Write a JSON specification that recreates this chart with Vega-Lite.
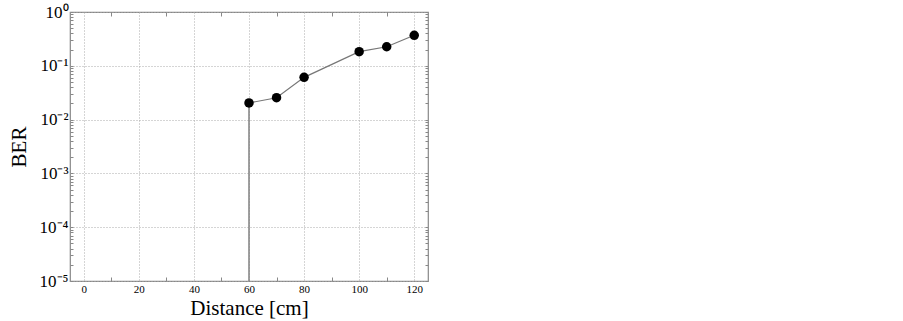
{
  "$schema": "https://vega.github.io/schema/vega-lite/v6.json",
  "width": 358,
  "height": 269,
  "autosize": "none",
  "padding": {"left": 70, "top": 12, "right": 475, "bottom": 40},
  "background": "white",
  "config": {
    "view": {"stroke": "#888888", "strokeWidth": 1.2},
    "font": "Liberation Serif",
    "axis": {"domain": false, "labelFont": "Liberation Serif", "titleFont": "Liberation Serif", "titleFontWeight": "normal", "labelColor": "black", "titleColor": "black", "tickColor": "#888888", "gridColor": "#aaaaaa", "gridDash": [1, 2], "gridWidth": 1}
  },
  "data": {
    "values": [
      {"distance": 60, "ber": 0.0204},
      {"distance": 70, "ber": 0.0255},
      {"distance": 80, "ber": 0.061},
      {"distance": 100, "ber": 0.183},
      {"distance": 110, "ber": 0.226},
      {"distance": 120, "ber": 0.369}
    ]
  },
  "layer": [
    {
      "transform": [{"filter": "datum.distance == 60"}],
      "mark": {"type": "rule", "color": "#808080", "strokeWidth": 1.5},
      "encoding": {
        "x": {"field": "distance", "type": "quantitative", "scale": {"domain": [-5, 125], "nice": false, "zero": false},
          "axis": {"orient": "bottom", "values": [0, 20, 40, 60, 80, 100, 120], "grid": true, "tickSize": 0, "labelFontSize": 11, "labelPadding": 2, "title": "Distance [cm]", "titleFontSize": 21, "titlePadding": 3}},
        "y": {"field": "ber", "type": "quantitative", "scale": {"type": "log", "domain": [0.00001, 1], "nice": false},
          "axis": {"orient": "left", "values": [0.00001, 0.0001, 0.001, 0.01, 0.1, 1], "grid": true, "tickSize": 0, "labelFontSize": 17, "labelPadding": 2,
            "labelExpr": "datum.value > 0.5 ? '10⁰' : datum.value > 0.05 ? '10⁻¹' : datum.value > 0.005 ? '10⁻²' : datum.value > 0.0005 ? '10⁻³' : datum.value > 0.00005 ? '10⁻⁴' : '10⁻⁵'",
            "title": "BER", "titleFontSize": 21, "titlePadding": 10}},
        "y2": {"datum": 0.00001}
      }
    },
    {
      "mark": {"type": "line", "color": "#777777", "strokeWidth": 1.2},
      "encoding": {
        "x": {"field": "distance", "type": "quantitative",
          "axis": {"orient": "bottom", "values": [10, 30, 50, 70, 90, 110], "grid": false, "labels": false, "tickSize": -4, "title": null}},
        "y": {"field": "ber", "type": "quantitative",
          "axis": {"orient": "left", "values": [0.00001,0.00002,0.00003,0.00004,0.00005,0.00006,0.00007,0.00008,0.00009,0.0001,0.0002,0.0003,0.0004,0.0005,0.0006,0.0007,0.0008,0.0009,0.001,0.002,0.003,0.004,0.005,0.006,0.007,0.008,0.009,0.01,0.02,0.03,0.04,0.05,0.06,0.07,0.08,0.09,0.1,0.2,0.3,0.4,0.5,0.6,0.7,0.8,0.9,1], "grid": false, "labels": false, "tickSize": -3, "title": null}}
      }
    },
    {
      "mark": {"type": "point", "filled": true, "color": "black", "size": 90, "opacity": 1},
      "encoding": {
        "x": {"field": "distance", "type": "quantitative",
          "axis": {"orient": "top", "values": [10, 30, 50, 70, 90, 110], "grid": false, "labels": false, "tickSize": -4, "title": null}},
        "y": {"field": "ber", "type": "quantitative",
          "axis": {"orient": "right", "values": [0.00001,0.00002,0.00003,0.00004,0.00005,0.00006,0.00007,0.00008,0.00009,0.0001,0.0002,0.0003,0.0004,0.0005,0.0006,0.0007,0.0008,0.0009,0.001,0.002,0.003,0.004,0.005,0.006,0.007,0.008,0.009,0.01,0.02,0.03,0.04,0.05,0.06,0.07,0.08,0.09,0.1,0.2,0.3,0.4,0.5,0.6,0.7,0.8,0.9,1], "grid": false, "labels": false, "tickSize": -3, "title": null}}
      }
    }
  ],
  "resolve": {"axis": {"x": "independent", "y": "independent"}}
}
